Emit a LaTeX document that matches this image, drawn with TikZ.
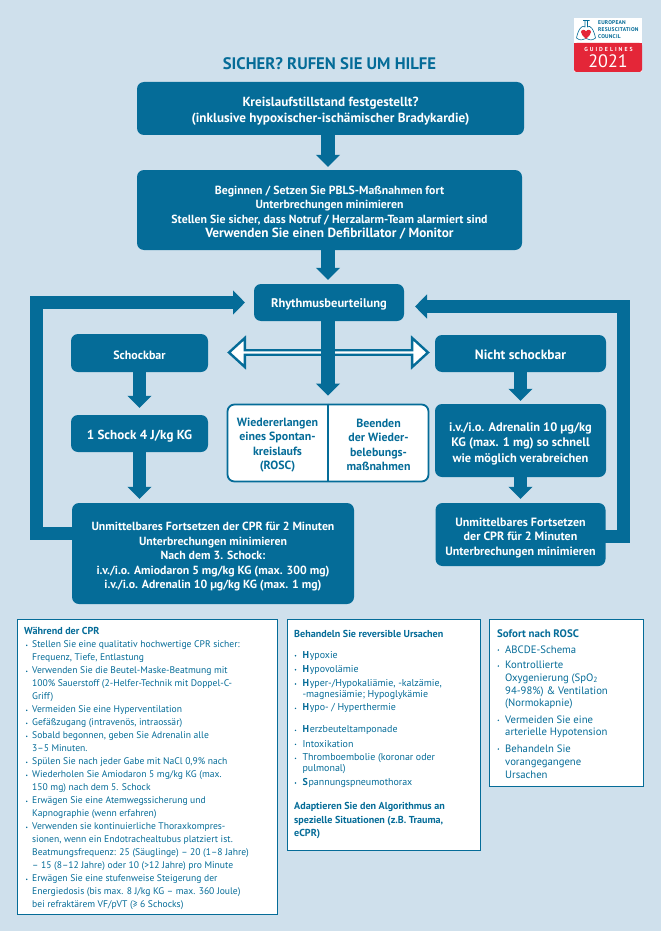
\documentclass[tikz,border=0pt]{standalone}
\usepackage{fontspec}
\setmainfont{PT Sans}
\usetikzlibrary{arrows.meta,shapes.arrows}
\definecolor{bgblue}{RGB}{207,224,236}
\definecolor{teal}{RGB}{5,108,152}
\definecolor{ercred}{RGB}{228,38,56}
\newcommand{\fs}[2]{\fontsize{#1}{#2}\selectfont}
\newcommand{\dn}[1]{\rule{0pt}{#1pt}}
\newcommand{\blt}{\leavevmode\llap{\raisebox{0.6pt}{\scalebox{0.55}{\textbullet}}\hspace{4.2pt}}}
\tikzset{
  box/.style={fill=teal,rounded corners=7pt,text=white,align=center,inner sep=0pt,font=\bfseries},
  panel/.style={draw=teal,line width=1pt,fill=white,anchor=north west,inner sep=0pt},
  ptxt/.style={anchor=west,align=left,inner sep=0pt,text=teal},
  bigarrow/.style={draw=teal,line width=13.5pt,line join=miter,-{Triangle[width=23.5pt,length=12pt]}},
  logotxt/.style={anchor=west,inner sep=0pt,text=teal,font=\bfseries\fs{5.5}{6}\addfontfeature{LetterSpace=4}},
}
\begin{document}
\begin{tikzpicture}[x=1pt,y=-1pt]
\useasboundingbox (0,0) rectangle (661,931);
\fill[bgblue] (0,0) rectangle (661,931);

% Logo
\node[fill=white,minimum width=68pt,minimum height=54pt,inner sep=0pt,anchor=north west] (logo) at (574,18) {};
\fill[ercred,rounded corners=2.5pt] (574,43) -- (642,43) -- (642,72) -- (574,72) -- cycle;
\fill[ercred] (574,43) rectangle (642,50);
\draw[teal,line width=0.6pt,line join=round] (585,21) -- (585,27) .. controls (582,24) and (578,30) .. (576.5,38) .. controls (580,41) and (583,40) .. (586,38.5)
   (587.5,21) -- (587.5,27) .. controls (590,24) and (594,30) .. (595.5,38) .. controls (592,41) and (589,40) .. (586,38.5)
   (583,20.5) -- (589.5,20.5);
\fill[ercred] (586,39) .. controls (583,36) and (581,34) .. (581,32) .. controls (581,29.5) and (585,29) .. (586,31.5) .. controls (587,29) and (591,29.5) .. (591,32) .. controls (591,34) and (589,36) .. (586,39) -- cycle;
\node[logotxt] (lg1) at (598,23) {EUROPEAN};
\node[logotxt] (lg2) at (598,30) {RESUSCITATION};
\node[logotxt] (lg3) at (598,37) {COUNCIL};
\node[inner sep=0pt,text=white,font=\bfseries\fs{5.8}{6}\addfontfeature{LetterSpace=35}] (lg4) at (608.5,49) {GUIDELINES};
\node[inner sep=0pt,text=white,font=\fs{18}{18}] (lg5) at (608,61.5) {2021};

% Title
\node[inner sep=0pt,text=teal,font=\bfseries\fs{16.7}{18}] (title) at (329.5,64) {SICHER? RUFEN SIE UM HILFE};

% Boxes
\node[box,minimum width=387pt,minimum height=53pt,font=\bfseries\fs{13.2}{16}] (b1) at (330.5,108.5) {\dn{15.5}Kreislaufstillstand festgestellt?\\(inklusive hypoxischer-ischämischer Bradykardie)};
\node[box,minimum width=385pt,minimum height=80pt,font=\bfseries\fs{11.8}{14.2}] (b2) at (329.5,210)
 {\dn{14}Beginnen / Setzen Sie PBLS-Maßnahmen fort\\Unterbrechungen minimieren\\Stellen Sie sicher, dass Notruf / Herzalarm-Team alarmiert sind\\{\fs{13.3}{14.2}Verwenden Sie einen Defibrillator / Monitor}};
\node[box,minimum width=150pt,minimum height=37pt,font=\bfseries\fs{12.5}{14}] (rhythm) at (329,302.5) {\dn{13.5}Rhythmusbeurteilung};
\node[box,minimum width=137pt,minimum height=38pt,font=\bfseries\fs{12}{14}] (shock) at (139.5,353) {\dn{13}Schockbar};
\node[box,minimum width=137pt,minimum height=37pt,font=\bfseries\fs{13.1}{15}] (oneshock) at (139.5,433.5) {\dn{14.5}1 Schock 4 J/kg KG};
\node[box,minimum width=282pt,minimum height=101pt,font=\bfseries\fs{11.8}{14.4}] (cprl) at (213,553.5) {\dn{15}Unmittelbares Fortsetzen der CPR für 2 Minuten\\Unterbrechungen minimieren\\Nach dem 3. Schock:\\i.v./i.o. Amiodaron 5 mg/kg KG (max. 300 mg)\\i.v./i.o. Adrenalin 10 µg/kg KG (max. 1 mg)};
\node[box,minimum width=171pt,minimum height=37pt,font=\bfseries\fs{13.5}{15}] (noshock) at (520.5,353.5) {\dn{13}Nicht schockbar};
\node[box,minimum width=171pt,minimum height=73pt,font=\bfseries\fs{12.4}{15.4}] (adr) at (520.5,440.5) {\dn{15}i.v./i.o. Adrenalin 10 µg/kg\\KG (max. 1 mg) so schnell\\wie möglich verabreichen};
\node[box,minimum width=170pt,minimum height=63pt,font=\bfseries\fs{12}{14.4}] (cprr) at (520.5,534.5) {\dn{15.5}Unmittelbares Fortsetzen\\der CPR für 2 Minuten\\Unterbrechungen minimieren};

% White outcome box
\node[draw=teal,line width=1.8pt,fill=white,rounded corners=7pt,minimum width=201pt,minimum height=77pt,inner sep=0pt] (outcome) at (328,443) {};
\node[inner sep=0pt,text=teal,align=center,font=\bfseries\fs{11.9}{14.3}] (rosc) at (277.5,445) {Wiedererlangen\\eines Spontan-\\kreislaufs\\(ROSC)};
\node[inner sep=0pt,text=teal,align=center,font=\bfseries\fs{11.9}{14.3}] (stop) at (378.5,445) {Beenden\\der Wieder-\\belebungs-\\maßnahmen};
\draw[teal,line width=1.6pt] (outcome.north) -- (outcome.south);

% Double arrow
\node[double arrow,draw=teal,fill=white,line width=2.4pt,line join=miter,minimum height=199pt,minimum width=29pt,double arrow head extend=6.6pt,double arrow tip angle=85,inner sep=0pt,outer sep=0pt] (dbl) at (328.5,352.5) {};

% Connectors
\coordinate (topx) at (328,0);
\draw[bigarrow,shorten >=3pt] (b1.south -| topx) -- (topx |- b2.north);
\draw[bigarrow,shorten >=4pt] (b2.south -| topx) -- (topx |- rhythm.north);
\draw[bigarrow,shorten >=8pt] (rhythm.south -| topx) -- (topx |- outcome.north);
\draw[bigarrow,shorten >=7pt] (shock.south) -- (oneshock.north);
\draw[bigarrow,shorten >=4pt] (oneshock.south) -- (cprl.north -| oneshock);
\draw[bigarrow,shorten >=3pt] (noshock.south) -- (adr.north);
\draw[bigarrow,shorten >=4pt] (adr.south) -- (cprr.north);
\coordinate (lcorner) at (36.5,533.5);
\coordinate (lin) at (245,302.5);
\coordinate (lstart) at (72,533.5);
\draw[bigarrow] (lstart) -- (lcorner) -- (lcorner |- lin) -- (lin);
\coordinate (rcorner) at (623.5,536.5);
\coordinate (rin) at (415,306.5);
\coordinate (rstart) at (605,536.5);
\draw[bigarrow] (rstart) -- (rcorner) -- (rcorner |- rin) -- (rin);

% Panels
\node[panel,minimum width=260pt,minimum height=295pt] (p1) at (17,619) {};
\node[panel,minimum width=193pt,minimum height=231pt] (p2) at (287,619) {};
\node[panel,minimum width=154pt,minimum height=167pt] (p3) at (489,619) {};

% Panel 1 text
\node[ptxt,anchor=north west,font=\fs{9.6}{13}] (t1) at (24,627.4) {%
\textbf{\fs{10.1}{13}Während der CPR}\\
\hspace*{8pt}\blt Stellen Sie eine qualitativ hochwertige CPR sicher:\\
\hspace*{8pt}Frequenz, Tiefe, Entlastung\\
\hspace*{8pt}\blt Verwenden Sie die Beutel-Maske-Beatmung mit\\
\hspace*{8pt}100\% Sauerstoff (2-Helfer-Technik mit Doppel-C-\\
\hspace*{8pt}Griff)\\
\hspace*{8pt}\blt Vermeiden Sie eine Hyperventilation\\
\hspace*{8pt}\blt Gefäßzugang (intravenös, intraossär)\\
\hspace*{8pt}\blt Sobald begonnen, geben Sie Adrenalin alle\\
\hspace*{8pt}3–5 Minuten.\\
\hspace*{8pt}\blt Spülen Sie nach jeder Gabe mit NaCl 0,9\% nach\\
\hspace*{8pt}\blt Wiederholen Sie Amiodaron 5 mg/kg KG (max.\\
\hspace*{8pt}150 mg) nach dem 5. Schock\\
\hspace*{8pt}\blt Erwägen Sie eine Atemwegssicherung und\\
\hspace*{8pt}Kapnographie (wenn erfahren)\\
\hspace*{8pt}\blt Verwenden sie kontinuierliche Thoraxkompres-\\
\hspace*{8pt}sionen, wenn ein Endotrachealtubus platziert ist.\\
\hspace*{8pt}Beatmungsfrequenz: 25 (Säuglinge) – 20 (1–8 Jahre)\\
\hspace*{8pt}– 15 (8–12 Jahre) oder 10 (>12 Jahre) pro Minute\\
\hspace*{8pt}\blt Erwägen Sie eine stufenweise Steigerung der\\
\hspace*{8pt}Energiedosis (bis max. 8 J/kg KG – max. 360 Joule)\\
\hspace*{8pt}bei refraktärem VF/pVT (≥ 6 Schocks)};

% Panel 2 text
\node[ptxt,font=\bfseries\fs{10.1}{13}] (t2a) at (294,634) {Behandeln Sie reversible Ursachen};
\foreach \n/\y/\tx in {a/655.7/{\textbf{H}\hspace{0.8pt}ypoxie},b/669.7/{\textbf{H}\hspace{0.8pt}ypovolämie},c/689.2/{\textbf{H}\hspace{0.8pt}yper-/Hypokaliämie, -kalzämie,\\-magnesiämie; Hypoglykämie},d/708.3/{\textbf{H}\hspace{0.8pt}ypo- / Hyperthermie},e/730.3/{\textbf{H}\hspace{0.8pt}erzbeuteltamponade},f/744.3/{Intoxikation},g/763.8/{Thromboembolie (koronar oder\\pulmonal)},h/783/{\textbf{S}\hspace{0.8pt}pannungspneumothorax}}{
  \node[ptxt,font=\fs{9.95}{11}] (r\n) at (302.3,\y) {\tx};
}
\foreach \y in {655.7,669.7,684,708.3,730.3,744.3,758.3,783}{
  \fill[teal] (295.5,\y) circle (0.8pt);
}
\node[ptxt,font=\bfseries\fs{10.1}{13.2}] (t2b) at (294,820.5) {Adaptieren Sie den Algorithmus an\\spezielle Situationen (z.B. Trauma,\\eCPR)};

% Panel 3 text
\node[ptxt,font=\bfseries\fs{10.9}{13}] (t3a) at (497,634) {Sofort nach ROSC};
\foreach \n/\y/\tx in {a/650/{ABCDE-Schema},b/685/{Kontrollierte\\Oxygenierung (SpO\textsubscript{2}\\94-98\%) \& Ventilation\\(Normokapnie)},c/726.8/{Vermeiden Sie eine\\arterielle Hypotension},d/762/{Behandeln Sie\\vorangegangene\\Ursachen}}{
  \node[ptxt,font=\fs{10.7}{12.8}] (s\n) at (505,\y) {\tx};
}
\foreach \y in {650,666,720.3,749}{
  \fill[teal] (498.3,\y) circle (0.8pt);
}
\end{tikzpicture}
\end{document}
